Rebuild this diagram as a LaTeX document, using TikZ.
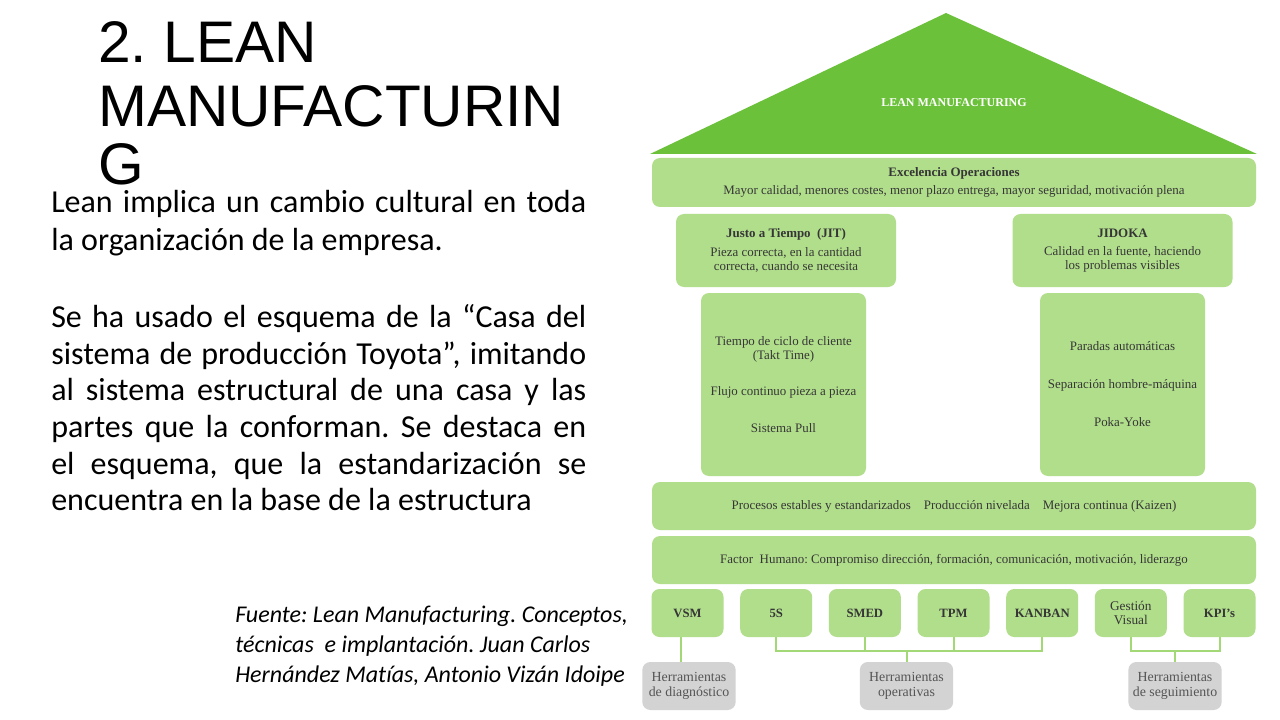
\documentclass[tikz,border=0pt]{standalone}
\usepackage{fontspec}
\setmainfont{Liberation Serif}
\newfontfamily\calibri[Ligatures={NoCommon}]{Carlito}
\newfontfamily\arialf{Liberation Sans}
\definecolor{roof}{HTML}{6CC13A}
\definecolor{lgreen}{HTML}{B1DE8B}
\definecolor{lgrey}{HTML}{D3D3D3}
\definecolor{txt}{HTML}{363636}
\definecolor{greytxt}{HTML}{555555}
\definecolor{conn}{HTML}{A3D877}
\frenchspacing
\begin{document}
\begin{tikzpicture}[x=0.75pt,y=-0.75pt,
  box/.style={fill=lgreen, draw=none, rounded corners=6pt, inner sep=0pt, align=center, text=txt,
    font=\fontsize{9.7}{10.5}\selectfont},
  tool/.style={box, minimum width=54pt, minimum height=36pt, font=\bfseries\fontsize{9.5}{10.5}\selectfont},
  greybox/.style={fill=lgrey, draw=none, rounded corners=6pt, inner sep=0pt, align=center, text=greytxt,
    minimum width=70pt, minimum height=36pt, font=\fontsize{10.4}{11.2}\selectfont},
  conn/.style={draw=conn, line width=1.5pt},
  leftline/.style={anchor=base west, inner sep=0pt, font=\calibri\fontsize{24}{28.8}\selectfont},
  titleline/.style={anchor=base west, inner sep=0pt, font=\arialf\fontsize{44}{47.5}\selectfont},
  srcline/.style={anchor=base west, inner sep=0pt, font=\calibri\itshape\fontsize{18}{21}\selectfont},
]
\useasboundingbox (0,0) rectangle (1280,720);
\fill[white] (0,0) rectangle (1280,720);

% title
\node[titleline] (t1) at (98,63) {2. LEAN};
\node[titleline] (t2) at (98,126.5) {MANUFACTURIN};
\node[titleline] (t3) at (98,184.5) {G};

% left text
\node[leftline] (p1) at (51,213) {\makebox[401.25pt][s]{Lean implica un cambio cultural en toda}};
\node[leftline] (p2) at (51,250) {la organización de la empresa.};
\node[leftline] (q1) at (51,327) {\makebox[401.25pt][s]{Se ha usado el esquema de la “Casa del}};
\node[leftline] (q2) at (51,364) {\makebox[401.25pt][s]{sistema de producción Toyota”, imitando}};
\node[leftline] (q3) at (51,400.5) {\makebox[401.25pt][s]{al sistema estructural de una casa y las}};
\node[leftline] (q4) at (51,437) {\makebox[401.25pt][s]{partes que la conforman. Se destaca en}};
\node[leftline] (q5) at (51,474) {\makebox[401.25pt][s]{el esquema, que la estandarización se}};
\node[leftline] (q6) at (51,510.5) {encuentra en la base de la estructura};

% source
\node[srcline] (s1) at (235,622) {Fuente: Lean Manufacturing.\ Conceptos,};
\node[srcline] (s2) at (235,652) {técnicas\ \ e implantación. Juan Carlos};
\node[srcline] (s3) at (235,682) {Hernández Matías, Antonio Vizán Idoipe};

% roof
\fill[roof] (650,154) -- (946,13) -- (1257,154) -- cycle;
\node[text=white, font=\bfseries\fontsize{9}{10}\selectfont] (roofl) at (954,103) {LEAN MANUFACTURING};

% boxes
\node[box, minimum width=453pt, minimum height=36.75pt] (exc) at (954,182.5)
  {\textbf{Excelencia Operaciones}\\[2.5pt]Mayor calidad, menores costes, menor plazo entrega, mayor seguridad, motivación plena};
\node[box, minimum width=165pt, minimum height=54.75pt] (jit) at (786,250.5)
  {\textbf{Justo a Tiempo\ \ (JIT)}\\[3.5pt]Pieza correcta, en la cantidad\\correcta, cuando se necesita};
\node[box, minimum width=165pt, minimum height=54.75pt] (jid) at (1122.5,250.5)
  {\textbf{JIDOKA}\\[3.5pt]Calidad en la fuente, haciendo\\los problemas visibles};
\node[box, minimum width=123.75pt, minimum height=137.25pt] (pl) at (783.5,384.5)
  {Tiempo de ciclo de cliente\\(Takt Time)\\[17pt]Flujo continuo pieza a pieza\\[17pt]Sistema Pull};
\node[box, minimum width=123.75pt, minimum height=137.25pt] (pr) at (1122.5,384.5)
  {Paradas automáticas\\[18pt]Separación hombre-máquina\\[18pt]Poka-Yoke};
\node[box, minimum width=453pt, minimum height=36pt] (proc) at (954,506)
  {Procesos estables y estandarizados\hspace{1em}Producción nivelada\hspace{1em}Mejora continua (Kaizen)};
\node[box, minimum width=453pt, minimum height=36pt] (fact) at (954,560)
  {Factor\ \ Humano: Compromiso dirección, formación, comunicación, motivación, liderazgo};

% tools
\node[tool] (vsm) at (687.5,613) {VSM};
\node[tool] (s5) at (776.2,613) {5S};
\node[tool] (smed) at (864.8,613) {SMED};
\node[tool] (tpm) at (953.5,613) {TPM};
\node[tool] (kan) at (1042.2,613) {KANBAN};
\node[tool, font=\fontsize{10}{10.8}\selectfont] (gv) at (1130.8,613) {Gestión\\Visual};
\node[tool] (kpi) at (1219.5,613) {KPI's};

% grey boxes
\node[greybox] (g1) at (689,686) {Herramientas\\de diagnóstico};
\node[greybox] (g2) at (906.5,686) {Herramientas\\operativas};
\node[greybox] (g3) at (1175,686) {Herramientas\\de seguimiento};

% connectors
\draw[conn] ([xshift=-5pt]vsm.south) -- ([xshift=-5pt]vsm.south |- g1.north);
\draw[conn] (s5.south) -- ++(0,14) -| (kan.south);
\draw[conn] (smed.south) -- ++(0,14);
\draw[conn] (tpm.south) -- ++(0,14);
\draw[conn] (g2.north) -- ++(0,-11);
\draw[conn] (gv.south) -- ++(0,14) -| (kpi.south);
\draw[conn] (g3.north) -- ++(0,-11);
\end{tikzpicture}
\end{document}
